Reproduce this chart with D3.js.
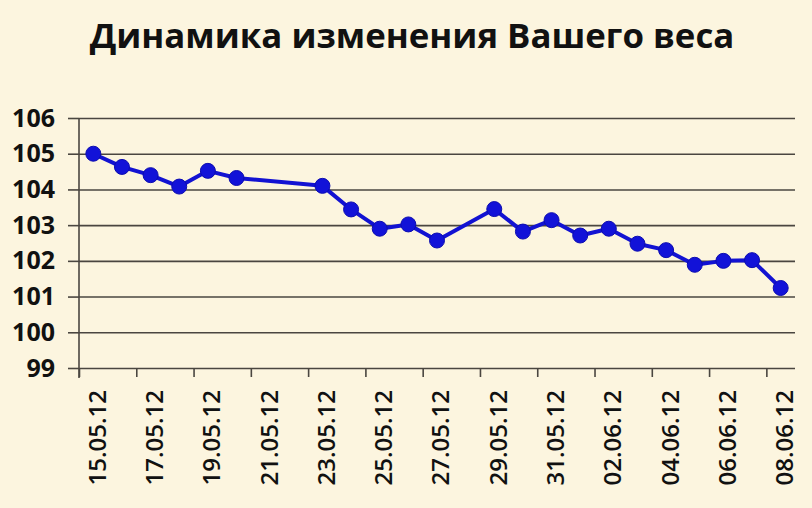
<!DOCTYPE html>
<html>
<head>
<meta charset="utf-8">
<script src="https://cdn.jsdelivr.net/npm/d3@7"></script>
<style>
  html, body { margin: 0; padding: 0; background: #fcf5df; }
  svg { display: block; }
</style>
</head>
<body>
<div id="viz"></div>
<script>
//-------Data-----------
var dates = ["15.05.12","16.05.12","17.05.12","18.05.12","19.05.12","20.05.12","21.05.12",
             "22.05.12","23.05.12","24.05.12","25.05.12","26.05.12","27.05.12","28.05.12",
             "29.05.12","30.05.12","31.05.12","01.06.12","02.06.12","03.06.12","04.06.12",
             "05.06.12","06.06.12","07.06.12","08.06.12"];
var weights = [105.0, 104.63, 104.4, 104.08, 104.52, 104.32, null,
               null, 104.1, 103.44, 102.9, 103.02, 102.57, null,
               103.45, 102.82, 103.14, 102.71, 102.9, 102.48, 102.3,
               101.89, 102.0, 102.02, 101.24];
var yTicks = [99, 100, 101, 102, 103, 104, 105, 106];
var title = "Динамика изменения Вашего веса";

var points = dates.map(function(d, i){ return {date: d, i: i, value: weights[i]}; })
  .filter(function(d){ return d.value !== null; });

//---------------------------------
var width = 812, height = 508;
var plotLeft = 79, plotRight = 795, plotTop = 118, plotBottom = 368;

var svg = d3.select("#viz").append("svg")
  .attr("width", width)
  .attr("height", height);

svg.append("rect")
  .attr("width", width).attr("height", height)
  .style("fill", "#fcf5df");

// title
var t = svg.append("text")
  .attr("x", 412)
  .attr("y", 48)
  .attr("text-anchor", "middle")
  .style("font-family", "'Open Sans', sans-serif")
  .style("font-weight", "bold")
  .style("font-size", "38px")
  .style("fill", "#111")
  .text(title);
var tw = t.node().getComputedTextLength();
if (tw > 645) t.style("font-size", (38 * 645 / tw) + "px");

//------Scales & axes-----------
var x = d3.scaleBand().domain(dates).range([plotLeft, plotRight]);
var xBound = d3.scaleLinear().domain([0, dates.length]).range([plotLeft, plotRight]);
var y = d3.scaleLinear().domain([99, 106]).range([plotBottom, plotTop]);

// gridlines
svg.append("g")
  .attr("transform", "translate(" + plotLeft + ",0)")
  .call(d3.axisLeft(y).tickValues(yTicks).tickSize(-(plotRight - plotLeft)).tickFormat(""))
  .call(function(g){ g.select(".domain").remove(); })
  .selectAll("line")
  .style("stroke", "#4a4640")
  .style("stroke-width", 1.6);

// y axis
var gY = svg.append("g")
  .attr("transform", "translate(" + plotLeft + ",0)")
  .call(d3.axisLeft(y).tickValues(yTicks).tickFormat(d3.format("d"))
    .tickSizeInner(11).tickSizeOuter(0).tickPadding(13));
gY.select(".domain").style("stroke", "#4a4640").style("stroke-width", 1.6)
  .attr("d", "M0," + plotTop + "V" + (plotBottom + 10));
gY.selectAll("line").style("stroke", "#4a4640").style("stroke-width", 1.6);
gY.selectAll("text")
  .style("font-family", "'Open Sans', sans-serif")
  .style("font-weight", "bold")
  .style("font-size", "25px")
  .style("fill", "#111");

// x axis ticks at category boundaries
var gX = svg.append("g")
  .attr("transform", "translate(0," + plotBottom + ")")
  .call(d3.axisBottom(xBound).tickValues(d3.range(0, dates.length, 2)).tickSize(9).tickFormat(""));
gX.select(".domain").remove();
gX.selectAll("line").style("stroke", "#4a4640").style("stroke-width", 1.6);

// x labels
var gXL = svg.append("g")
  .attr("transform", "translate(0," + plotBottom + ")")
  .call(d3.axisBottom(x).tickValues(dates.filter(function(d, i){ return i % 2 === 0; })).tickSize(0));
gXL.select(".domain").remove();
gXL.selectAll("text")
  .attr("transform", "rotate(-90)")
  .attr("x", -22)
  .attr("y", 4)
  .attr("dy", "0.35em")
  .attr("text-anchor", "end")
  .style("font-family", "'Open Sans', sans-serif")
  .style("font-weight", 600)
  .style("font-size", "24px")
  .style("fill", "#111");

//------Plot the data--------------------
var line = d3.line()
  .x(function(d){ return x(d.date) + x.bandwidth() / 2; })
  .y(function(d){ return y(d.value); });

svg.append("path")
  .datum(points)
  .attr("d", line)
  .style("fill", "none")
  .style("stroke", "#1212d2")
  .style("stroke-width", 4)
  .style("stroke-linejoin", "round");

svg.append("g")
  .selectAll("circle")
  .data(points)
  .enter()
  .append("circle")
  .attr("r", 7.5)
  .attr("cx", function(d){ return x(d.date) + x.bandwidth() / 2; })
  .attr("cy", function(d){ return y(d.value); })
  .style("fill", "#1212d8")
  .style("stroke", "#0c0cb0")
  .style("stroke-width", 1);
</script>
</body>
</html>
